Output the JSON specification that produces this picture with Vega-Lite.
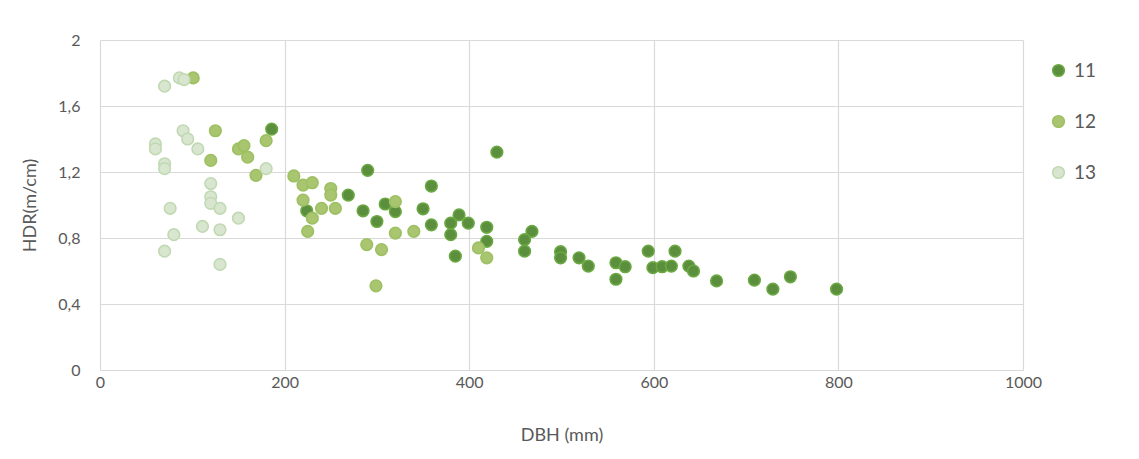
{
  "$schema": "https://vega.github.io/schema/vega-lite/v6.json",
  "autosize": {"type": "none"},
  "width": 923,
  "height": 330,
  "padding": {"left": 100, "top": 40, "right": 116, "bottom": 89},
  "background": "white",
  "data": {
    "values": [
      {"serie": "11", "DBH": 186, "HDR": 1.46},
      {"serie": "11", "DBH": 224, "HDR": 0.965},
      {"serie": "11", "DBH": 269, "HDR": 1.06},
      {"serie": "11", "DBH": 290, "HDR": 1.21},
      {"serie": "11", "DBH": 285, "HDR": 0.965},
      {"serie": "11", "DBH": 300, "HDR": 0.9},
      {"serie": "11", "DBH": 309, "HDR": 1.006},
      {"serie": "11", "DBH": 320, "HDR": 0.96},
      {"serie": "11", "DBH": 350, "HDR": 0.977},
      {"serie": "11", "DBH": 359, "HDR": 1.115},
      {"serie": "11", "DBH": 359, "HDR": 0.88},
      {"serie": "11", "DBH": 430, "HDR": 1.32},
      {"serie": "11", "DBH": 380, "HDR": 0.89},
      {"serie": "11", "DBH": 389, "HDR": 0.94},
      {"serie": "11", "DBH": 380, "HDR": 0.82},
      {"serie": "11", "DBH": 399, "HDR": 0.89},
      {"serie": "11", "DBH": 419, "HDR": 0.865},
      {"serie": "11", "DBH": 419, "HDR": 0.78},
      {"serie": "11", "DBH": 385, "HDR": 0.69},
      {"serie": "11", "DBH": 468, "HDR": 0.84},
      {"serie": "11", "DBH": 460, "HDR": 0.79},
      {"serie": "11", "DBH": 460, "HDR": 0.72},
      {"serie": "11", "DBH": 499, "HDR": 0.717},
      {"serie": "11", "DBH": 499, "HDR": 0.68},
      {"serie": "11", "DBH": 519, "HDR": 0.68},
      {"serie": "11", "DBH": 529, "HDR": 0.63},
      {"serie": "11", "DBH": 559, "HDR": 0.65},
      {"serie": "11", "DBH": 569, "HDR": 0.626},
      {"serie": "11", "DBH": 559, "HDR": 0.55},
      {"serie": "11", "DBH": 594, "HDR": 0.72},
      {"serie": "11", "DBH": 599, "HDR": 0.62},
      {"serie": "11", "DBH": 609, "HDR": 0.626},
      {"serie": "11", "DBH": 619, "HDR": 0.63},
      {"serie": "11", "DBH": 623, "HDR": 0.72},
      {"serie": "11", "DBH": 638, "HDR": 0.63},
      {"serie": "11", "DBH": 643, "HDR": 0.6},
      {"serie": "11", "DBH": 668, "HDR": 0.54},
      {"serie": "11", "DBH": 709, "HDR": 0.545},
      {"serie": "11", "DBH": 729, "HDR": 0.49},
      {"serie": "11", "DBH": 748, "HDR": 0.565},
      {"serie": "11", "DBH": 798, "HDR": 0.49},
      {"serie": "12", "DBH": 101, "HDR": 1.77},
      {"serie": "12", "DBH": 125, "HDR": 1.45},
      {"serie": "12", "DBH": 120, "HDR": 1.27},
      {"serie": "12", "DBH": 150, "HDR": 1.34},
      {"serie": "12", "DBH": 156, "HDR": 1.36},
      {"serie": "12", "DBH": 160, "HDR": 1.29},
      {"serie": "12", "DBH": 180, "HDR": 1.39},
      {"serie": "12", "DBH": 169, "HDR": 1.18},
      {"serie": "12", "DBH": 210, "HDR": 1.176},
      {"serie": "12", "DBH": 220, "HDR": 1.12},
      {"serie": "12", "DBH": 230, "HDR": 1.135},
      {"serie": "12", "DBH": 220, "HDR": 1.03},
      {"serie": "12", "DBH": 250, "HDR": 1.1},
      {"serie": "12", "DBH": 250, "HDR": 1.06},
      {"serie": "12", "DBH": 240, "HDR": 0.98},
      {"serie": "12", "DBH": 255, "HDR": 0.98},
      {"serie": "12", "DBH": 230, "HDR": 0.92},
      {"serie": "12", "DBH": 225, "HDR": 0.84},
      {"serie": "12", "DBH": 320, "HDR": 1.02},
      {"serie": "12", "DBH": 320, "HDR": 0.83},
      {"serie": "12", "DBH": 340, "HDR": 0.84},
      {"serie": "12", "DBH": 289, "HDR": 0.76},
      {"serie": "12", "DBH": 305, "HDR": 0.73},
      {"serie": "12", "DBH": 299, "HDR": 0.51},
      {"serie": "12", "DBH": 410, "HDR": 0.74},
      {"serie": "12", "DBH": 419, "HDR": 0.68},
      {"serie": "13", "DBH": 70, "HDR": 1.72},
      {"serie": "13", "DBH": 86, "HDR": 1.77},
      {"serie": "13", "DBH": 91, "HDR": 1.76},
      {"serie": "13", "DBH": 90, "HDR": 1.45},
      {"serie": "13", "DBH": 95, "HDR": 1.4},
      {"serie": "13", "DBH": 60, "HDR": 1.37},
      {"serie": "13", "DBH": 60, "HDR": 1.34},
      {"serie": "13", "DBH": 106, "HDR": 1.34},
      {"serie": "13", "DBH": 70, "HDR": 1.25},
      {"serie": "13", "DBH": 70, "HDR": 1.22},
      {"serie": "13", "DBH": 180, "HDR": 1.22},
      {"serie": "13", "DBH": 120, "HDR": 1.13},
      {"serie": "13", "DBH": 120, "HDR": 1.05},
      {"serie": "13", "DBH": 120, "HDR": 1.01},
      {"serie": "13", "DBH": 130, "HDR": 0.98},
      {"serie": "13", "DBH": 76, "HDR": 0.98},
      {"serie": "13", "DBH": 150, "HDR": 0.92},
      {"serie": "13", "DBH": 111, "HDR": 0.87},
      {"serie": "13", "DBH": 130, "HDR": 0.85},
      {"serie": "13", "DBH": 80, "HDR": 0.82},
      {"serie": "13", "DBH": 70, "HDR": 0.72},
      {"serie": "13", "DBH": 130, "HDR": 0.64}
    ]
  },
  "mark": {"type": "point", "shape": "circle", "filled": true, "size": 135, "strokeWidth": 1.6, "opacity": 1},
  "encoding": {
    "x": {
      "field": "DBH", "type": "quantitative",
      "scale": {"domain": [0, 1000], "nice": false, "zero": true},
      "axis": {"values": [0, 200, 400, 600, 800, 1000], "format": "d", "title": "DBH (mm)", "labelPadding": 4, "titlePadding": 36, "labelFlush": false}
    },
    "y": {
      "field": "HDR", "type": "quantitative",
      "scale": {"domain": [0, 2], "nice": false},
      "axis": {"values": [0, 0.4, 0.8, 1.2, 1.6, 2], "labelExpr": "replace(format(datum.value, '.1~f'), '.', ',')", "title": "HDR(m/cm)", "labelPadding": 20, "titlePadding": 18, "labelFlush": false}
    },
    "fill": {
      "field": "serie", "type": "nominal",
      "scale": {"domain": ["11", "12", "13"], "range": ["#5b8e3d", "#a9c56f", "#d9e6cf"]},
      "legend": {"title": null, "orient": "none", "legendX": 949, "legendY": 21, "labelFontSize": 19, "symbolSize": 135, "rowPadding": 31, "labelOffset": 6, "labelColor": "#595959", "labelFont": "Lato", "symbolStrokeWidth": 1.6}
    },
    "stroke": {
      "field": "serie", "type": "nominal",
      "scale": {"domain": ["11", "12", "13"], "range": ["#6aa842", "#9cc062", "#c0d9b2"]},
      "legend": null
    },
    "order": {"field": "serie", "type": "nominal"}
  },
  "config": {
    "view": {"stroke": null},
    "font": "Lato",
    "axis": {
      "domain": false, "ticks": false,
      "grid": true, "gridColor": "#d9d9d9", "gridWidth": 1.2,
      "labelFontSize": 16, "labelColor": "#595959", "labelFont": "Lato",
      "titleFontSize": 18, "titleColor": "#595959", "titleFont": "Lato", "titleFontWeight": "normal"
    }
  }
}
